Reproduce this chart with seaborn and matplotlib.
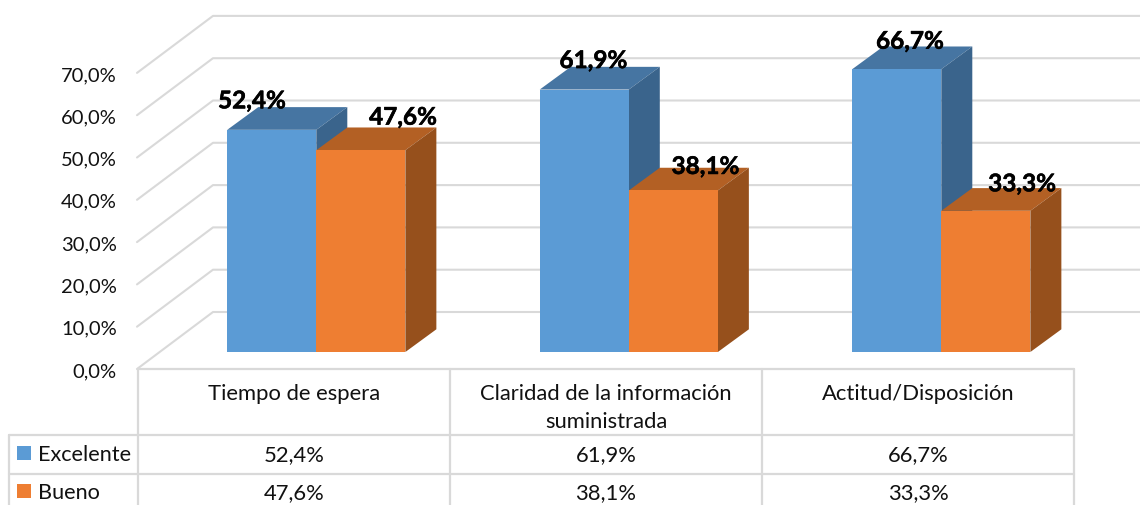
import matplotlib
matplotlib.use("Agg")
import matplotlib.pyplot as plt
from matplotlib.patches import Polygon, Rectangle
from matplotlib.transforms import Affine2D
import matplotlib.patheffects as pe
import pandas as pd
import seaborn as sns

# data
categories = ["Tiempo de espera", "Claridad de la información\nsuministrada", "Actitud/Disposición"]
excelente = [52.4, 61.9, 66.7]
bueno = [47.6, 38.1, 33.3]
y_ticks = [0, 10, 20, 30, 40, 50, 60, 70]

# colours
blue, blue_top, blue_side = "#5B9BD5", "#4675A2", "#3A648C"
orange, orange_top, orange_side = "#EE7E32", "#B36024", "#96501C"
grid_col = "#D9D9D9"

# hand placed data labels (pixels from the bar's front top centre)
label_shift = [(-20, -28), (42, -32), (9, -28), (32, -23), (13, -27), (36, -26)]

W, H = 1140, 506
sns.set_theme(style="white")
plt.rcParams["font.family"] = ["Lato", "DejaVu Sans"]

def pct(v):
    return f"{v:.1f}%".replace(".", ",")

df = pd.DataFrame({
    "cat": categories * 2,
    "valor": excelente + bueno,
    "serie": ["Excelente"] * 3 + ["Bueno"] * 3,
})

fig = plt.figure(figsize=(W / 100, H / 100), dpi=100, facecolor="white")
ax = fig.add_axes([0, 0, 1, 1], facecolor="none")
px = Affine2D().scale(1 / W, -1 / H).translate(0, 1 - 1 / H) + fig.transFigure

# scale: categories 312.5 px apart, 4.24 px per percent, baseline at y=352
x_unit, y_unit = 312.5, 4.24
sns.barplot(data=df, x="cat", y="valor", hue="serie", hue_order=["Excelente", "Bueno"],
            palette=[blue, orange], width=0.57, saturation=1, gap=0, legend=False,
            linewidth=0, ax=ax)
ax.set_xlim(-316.3 / x_unit, (W - 316.3) / x_unit)
ax.set_ylim(-(H - 353) / y_unit, 353 / y_unit)
ax.axis("off")

# y axis labels on their own axes, same height as the front plane
ax_y = fig.add_axes([139 / W, 1 - 370 / H, 1 / W, 296 / H], facecolor="none")
ax_y.set_ylim(0, 70)
ax_y.set_xticks([])
ax_y.set_yticks(y_ticks)
ax_y.set_yticklabels([pct(v) for v in y_ticks], fontsize=14.5, color="#111111")
ax_y.tick_params(axis="y", length=0, pad=16)
sns.despine(ax=ax_y, left=True, bottom=True)

# walls
for v in y_ticks:
    front_y = 368 - v * 4.23
    back_y = 312 - v * 4.23
    ax.plot([137, 213, W], [front_y + 1, back_y, back_y], color=grid_col, lw=1.5,
            transform=px, zorder=0, clip_on=False)

# depth faces built from the seaborn bars
dx, dy = 31 / x_unit, 22.7 / y_unit
faces = [(blue_top, blue_side, 2), (orange_top, orange_side, 3)]
for cont, (c_top, c_side, z) in zip(ax.containers, faces):
    for bar in cont:
        x0, x1 = bar.get_x(), bar.get_x() + bar.get_width()
        h = bar.get_height()
        bar.set_zorder(4)
        ax.add_patch(Polygon([(x0, h), (x1, h), (x1 + dx, h + dy), (x0 + dx, h + dy)],
                             facecolor=c_top, edgecolor="none", zorder=z))
        ax.add_patch(Polygon([(x1, 0), (x1 + dx, dy), (x1 + dx, h + dy), (x1, h)],
                             facecolor=c_side, edgecolor="none", zorder=z))

# data labels
bars = sorted([b for c in ax.containers for b in c], key=lambda b: b.get_x())
for bar, (sx, sy) in zip(bars, label_shift):
    ax.text(bar.get_x() + bar.get_width() / 2 + sx / x_unit, bar.get_height() - (sy - 1) / y_unit,
            pct(bar.get_height()), ha="center", va="center", fontsize=17.5,
            fontweight="bold", color="black", zorder=6,
            path_effects=[pe.withStroke(linewidth=0.4, foreground="black")])

# data table
col_x = [138, 450, 762, 1074]
row_y = [435, 474]
ax.plot([col_x[0], col_x[-1]], [369, 369], color=grid_col, lw=1.6, transform=px, clip_on=False)
for y in row_y:
    ax.plot([9, col_x[-1]], [y, y], color=grid_col, lw=1.6, transform=px, clip_on=False)
for x in col_x:
    ax.plot([x, x], [369, H], color=grid_col, lw=1.6, transform=px, clip_on=False)
ax.plot([9, 9], [435, H], color=grid_col, lw=1.6, transform=px, clip_on=False)

for i, name in enumerate(categories):
    cx = (col_x[i] + col_x[i + 1]) / 2
    ax.text(cx, 407 if "\n" in name else 393, name, transform=px, ha="center", va="center",
            fontsize=15.8, color="#111111", linespacing=1.45)
    ax.text(cx, 454, pct(excelente[i]), transform=px, ha="center", va="center", fontsize=15.8, color="#111111")
    ax.text(cx, 492, pct(bueno[i]), transform=px, ha="center", va="center", fontsize=15.8, color="#111111")

# legend keys in the table
for y, col, name in [(446, blue, "Excelente"), (484, orange, "Bueno")]:
    ax.add_patch(Rectangle((17, y), 14, 14, facecolor=col, edgecolor="none", transform=px, clip_on=False))
    ax.text(37.5, y + 8, name, transform=px, ha="left", va="center", fontsize=15.6, color="#111111")

fig.savefig("out.png", dpi=100)
